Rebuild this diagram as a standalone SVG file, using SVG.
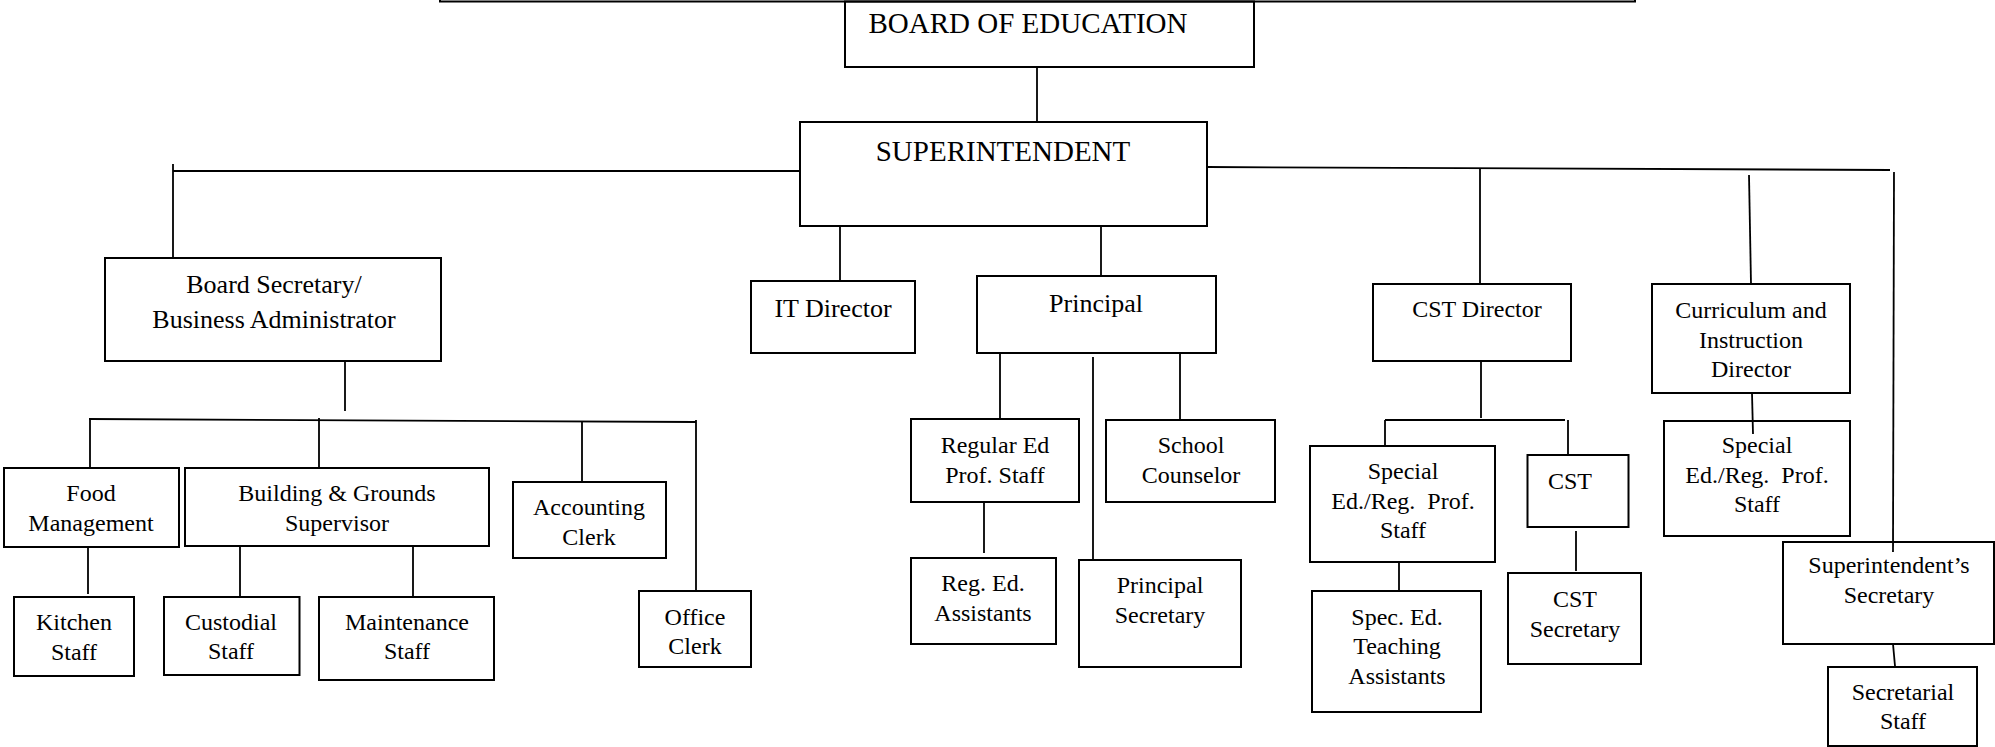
<svg xmlns="http://www.w3.org/2000/svg" width="1995" height="747" viewBox="0 0 1995 747">
  <style>
    .box { fill: none; stroke: #000; stroke-width: 2; }
    .ln { fill: none; stroke: #000; stroke-width: 1.8; }
    text { font-family: "Liberation Serif", "Times New Roman", serif; font-size: 24px; text-anchor: middle; fill: #000; }
    .xl { font-size: 29px; }
    .md { font-size: 26px; }
    .pre { white-space: pre; }
  </style>
  <rect width="1995" height="747" fill="#fff"/>

  <!-- lower edge of the page frame -->
  <rect class="box" x="440" y="-40" width="1195" height="41.5"/>

  <!-- reporting lines -->
  <g id="connectors">
    <path class="ln" d="M1037,67 V122"/>
    <path class="ln" d="M800,171 H173 M173,164 V258"/>
    <path class="ln" d="M1207,167 L1890,170"/>
    <path class="ln" d="M1480,168 V284"/>
    <path class="ln" d="M1749,175 L1751,284"/>
    <path class="ln" d="M1894,172 L1893,552"/>
    <path class="ln" d="M840,226 V281"/>
    <path class="ln" d="M1101,226 V276"/>
    <path class="ln" d="M345,361 V411"/>
    <path class="ln" d="M89,419 L696,422"/>
    <path class="ln" d="M90,419 V468 M319,418 V468 M582,421 V482 M696,420 V591"/>
    <path class="ln" d="M88,547 V594"/>
    <path class="ln" d="M240,546 V597 M413,546 V597"/>
    <path class="ln" d="M1000,353 V419 M1093,357 V560 M1180,353 V420"/>
    <path class="ln" d="M984,502 V553"/>
    <path class="ln" d="M1481,361 V418 M1385,420 H1565 M1385,420 V446 M1568,420 V455"/>
    <path class="ln" d="M1399,562 V591"/>
    <path class="ln" d="M1576,531 V571"/>
    <path class="ln" d="M1752,393 L1753,434"/>
    <path class="ln" d="M1893,644 L1895,666"/>
  </g>

  <g id="board-of-education">
    <rect class="box" x="845" y="1.5" width="409" height="65.5"/>
    <text class="xl" x="1028" y="33">BOARD OF EDUCATION</text>
  </g>
  <g id="superintendent">
    <rect class="box" x="800" y="122" width="407" height="104"/>
    <text class="xl" x="1003" y="161">SUPERINTENDENT</text>
  </g>
  <g id="board-secretary">
    <rect class="box" x="105" y="258" width="336" height="103"/>
    <text class="md" x="274" y="293">Board Secretary/</text>
    <text class="md" x="274" y="328">Business Administrator</text>
  </g>
  <g id="it-director">
    <rect class="box" x="751" y="281" width="164" height="72"/>
    <text class="md" x="833" y="317">IT Director</text>
  </g>
  <g id="principal">
    <rect class="box" x="977" y="276" width="239" height="77"/>
    <text class="md" x="1096" y="312">Principal</text>
  </g>
  <g id="cst-director">
    <rect class="box" x="1373" y="284" width="198" height="77"/>
    <text x="1477" y="317">CST Director</text>
  </g>
  <g id="curriculum-director">
    <rect class="box" x="1652" y="284" width="198" height="109"/>
    <text x="1751" y="318">Curriculum and</text>
    <text x="1751" y="348">Instruction</text>
    <text x="1751" y="377">Director</text>
  </g>

  <g id="food-management">
    <rect class="box" x="4" y="468" width="175" height="79"/>
    <text x="91" y="501">Food</text>
    <text x="91" y="531">Management</text>
  </g>
  <g id="building-grounds">
    <rect class="box" x="185" y="468" width="304" height="78"/>
    <text x="337" y="501">Building &amp; Grounds</text>
    <text x="337" y="531">Supervisor</text>
  </g>
  <g id="accounting-clerk">
    <rect class="box" x="513" y="482" width="153" height="76"/>
    <text x="589" y="515">Accounting</text>
    <text x="589" y="545">Clerk</text>
  </g>
  <g id="office-clerk">
    <rect class="box" x="639" y="591" width="112" height="76"/>
    <text x="695" y="625">Office</text>
    <text x="695" y="654">Clerk</text>
  </g>
  <g id="kitchen-staff">
    <rect class="box" x="14" y="597" width="120" height="79"/>
    <text x="74" y="630">Kitchen</text>
    <text x="74" y="660">Staff</text>
  </g>
  <g id="custodial-staff">
    <rect class="box" x="164" y="597" width="135.5" height="78"/>
    <text x="231" y="630">Custodial</text>
    <text x="231" y="659">Staff</text>
  </g>
  <g id="maintenance-staff">
    <rect class="box" x="319" y="597" width="175" height="83"/>
    <text x="407" y="630">Maintenance</text>
    <text x="407" y="659">Staff</text>
  </g>

  <g id="regular-ed-staff">
    <rect class="box" x="911" y="419" width="168" height="83"/>
    <text x="995" y="453">Regular Ed</text>
    <text x="995" y="483">Prof. Staff</text>
  </g>
  <g id="reg-ed-assistants">
    <rect class="box" x="911" y="558" width="145" height="86"/>
    <text x="983" y="591">Reg. Ed.</text>
    <text x="983" y="621">Assistants</text>
  </g>
  <g id="principal-secretary">
    <rect class="box" x="1079" y="560" width="162" height="107"/>
    <text x="1160" y="593">Principal</text>
    <text x="1160" y="623">Secretary</text>
  </g>
  <g id="school-counselor">
    <rect class="box" x="1106" y="420" width="169" height="82"/>
    <text x="1191" y="453">School</text>
    <text x="1191" y="483">Counselor</text>
  </g>

  <g id="special-ed-staff-cst">
    <rect class="box" x="1310" y="446" width="185" height="116"/>
    <text x="1403" y="479">Special</text>
    <text class="pre" x="1403" y="509" font-size="23">Ed./Reg.  Prof.</text>
    <text x="1403" y="538">Staff</text>
  </g>
  <g id="spec-ed-assistants">
    <rect class="box" x="1312" y="591" width="169" height="121"/>
    <text x="1397" y="625">Spec. Ed.</text>
    <text x="1397" y="654">Teaching</text>
    <text x="1397" y="684">Assistants</text>
  </g>
  <g id="cst">
    <rect class="box" x="1527.5" y="455" width="101" height="72"/>
    <text x="1570" y="489">CST</text>
  </g>
  <g id="cst-secretary">
    <rect class="box" x="1508" y="573" width="133" height="91"/>
    <text x="1575" y="607">CST</text>
    <text x="1575" y="637">Secretary</text>
  </g>

  <g id="special-ed-staff-curriculum">
    <rect class="box" x="1664" y="421" width="186" height="115"/>
    <text x="1757" y="453">Special</text>
    <text class="pre" x="1757" y="483" font-size="23">Ed./Reg.  Prof.</text>
    <text x="1757" y="512">Staff</text>
  </g>
  <g id="superintendents-secretary">
    <rect class="box" x="1783" y="542" width="211" height="102"/>
    <text x="1889" y="573">Superintendent’s</text>
    <text x="1889" y="603">Secretary</text>
  </g>
  <g id="secretarial-staff">
    <rect class="box" x="1828" y="667" width="149" height="79"/>
    <text x="1903" y="700">Secretarial</text>
    <text x="1903" y="729">Staff</text>
  </g>
</svg>
